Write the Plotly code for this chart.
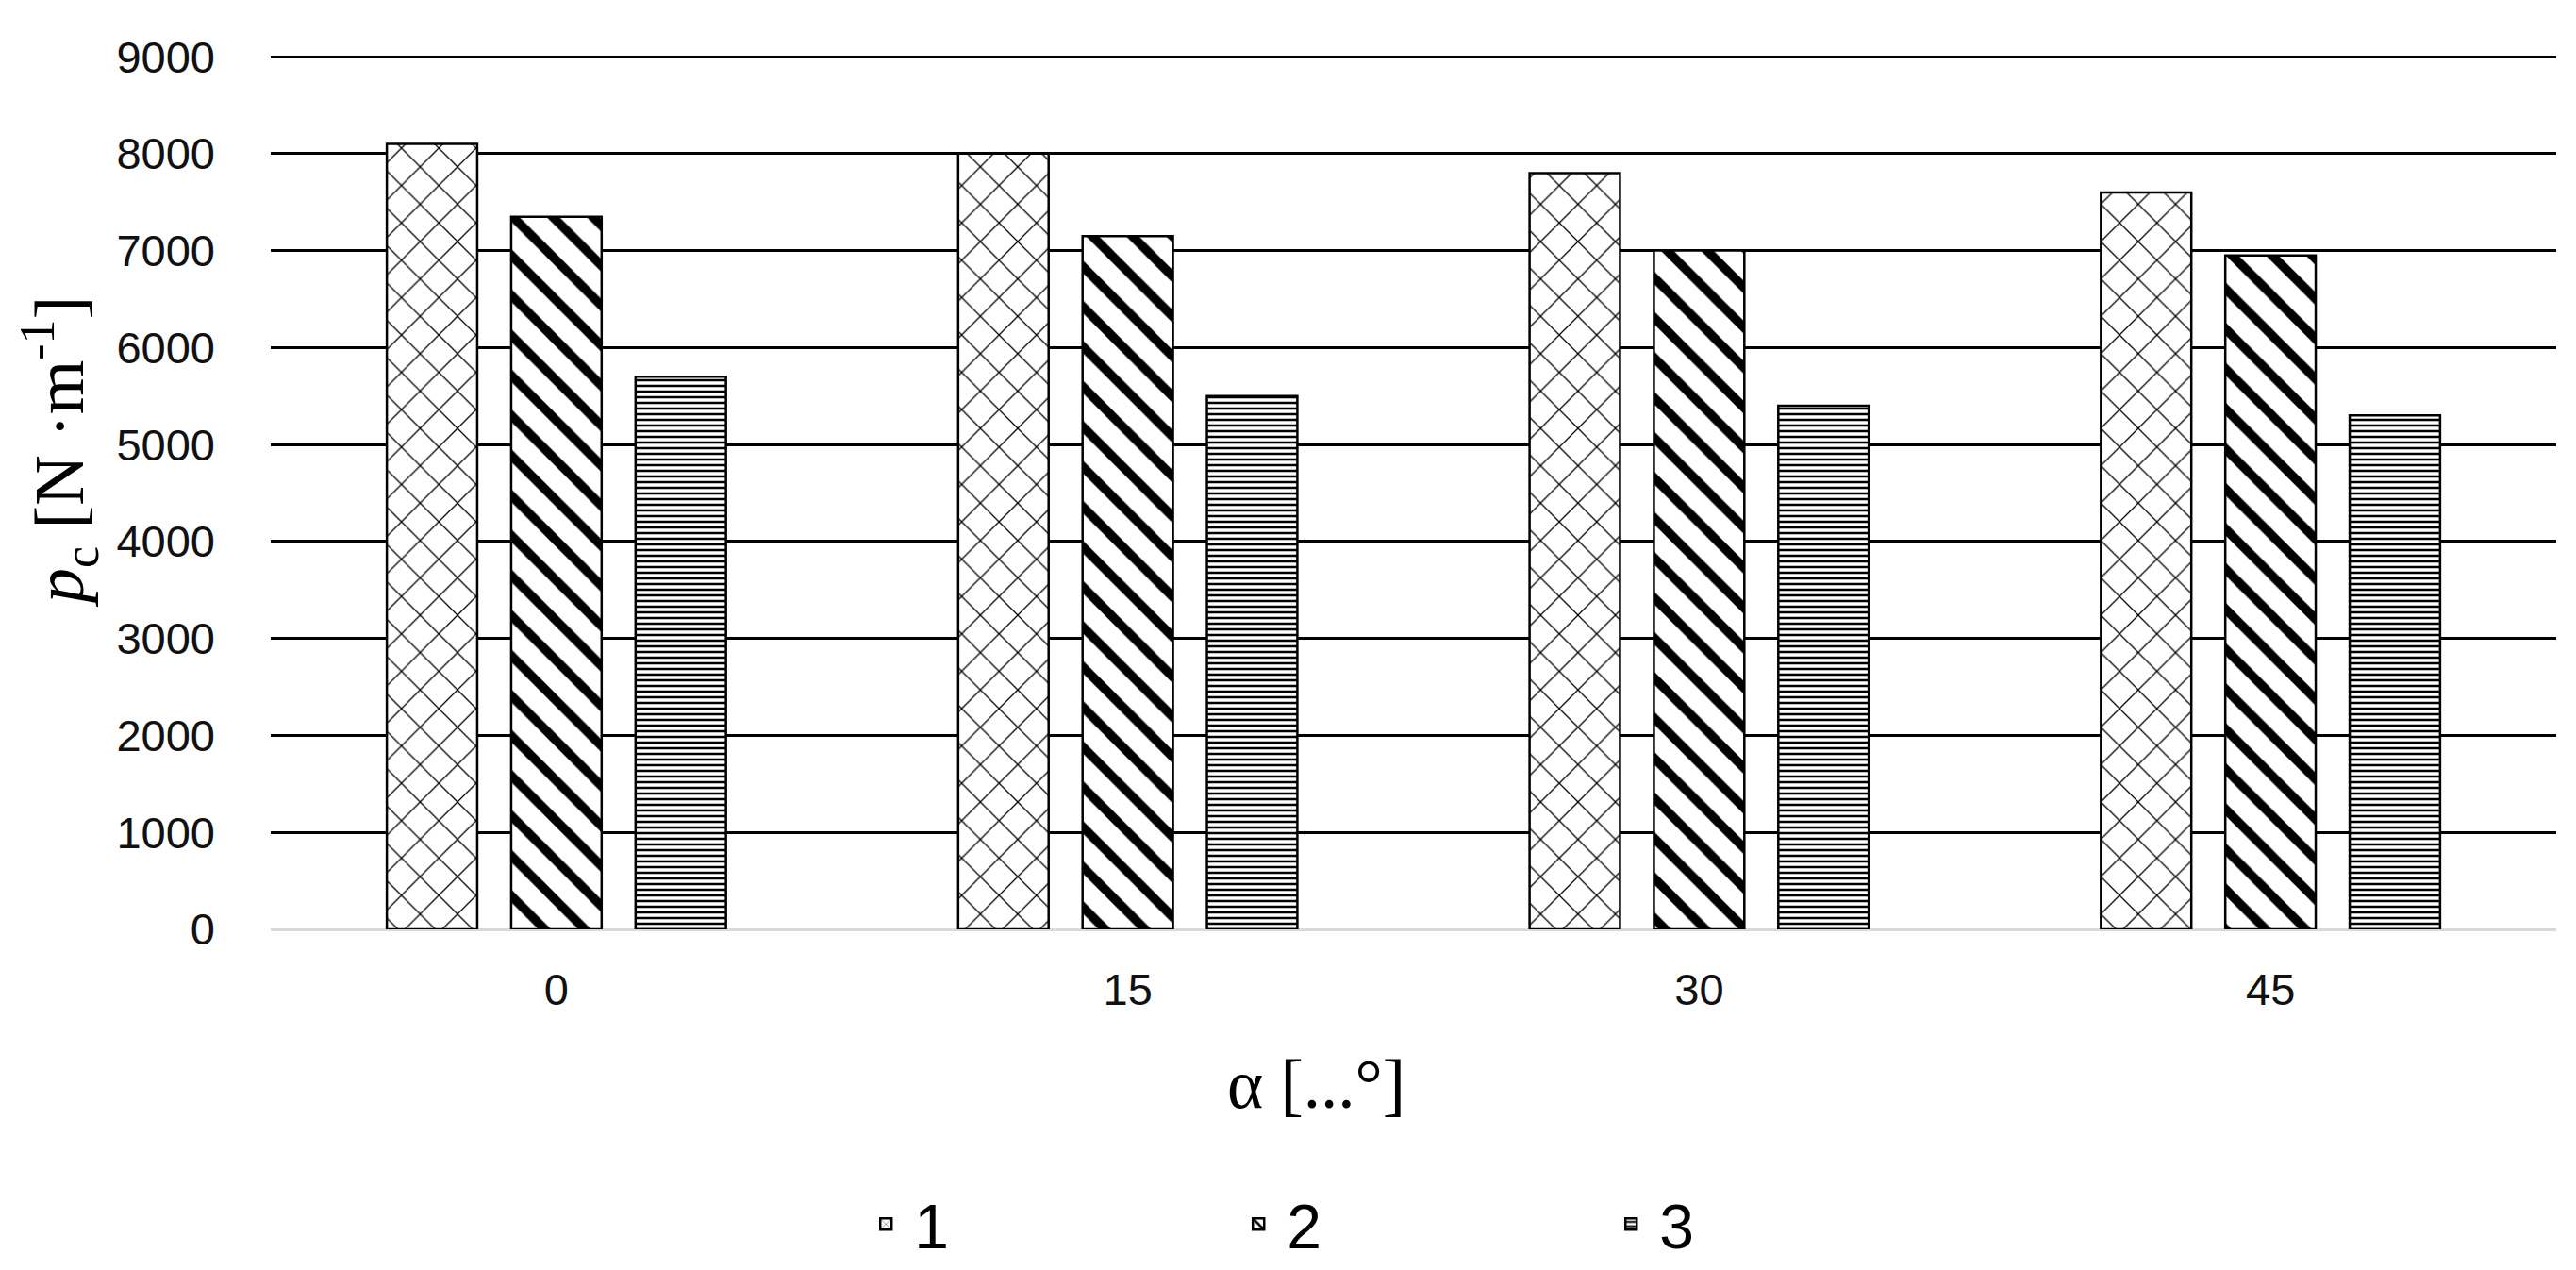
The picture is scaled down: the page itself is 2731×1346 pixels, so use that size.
import plotly.graph_objects as go

categories = ["0", "15", "30", "45"]
series_names = ["1", "2", "3"]
values_1 = [8100, 8000, 7800, 7600]
values_2 = [7350, 7150, 7000, 6950]
values_3 = [5700, 5500, 5400, 5300]
y_ticks = [0, 1000, 2000, 3000, 4000, 5000, 6000, 7000, 8000, 9000]

x_title = "α [...°]"
y_title = "<i>p</i><sub>c</sub> [N ·m<sup>-1</sup>]"

series_values = [values_1, values_2, values_3]
pattern_styles = [
    dict(shape="x", size=28, solidity=0.09),
    dict(shape="\\", size=30, solidity=0.32),
    dict(shape="-", size=6, solidity=0.42),
]

W, H = 2731, 1346
L, R, T, B = 279, 29, 50, 369

fig = go.Figure()
for name, vals, pat in zip(series_names, series_values, pattern_styles):
    fig.add_trace(go.Bar(
        x=categories, y=vals, name=name,
        marker=dict(
            color="white",
            line=dict(color="black", width=2.5),
            pattern=dict(fgcolor="black", bgcolor="white", fgopacity=1, fillmode="overlay", **pat),
        ),
    ))

tick_font = dict(family="Liberation Sans, Arial", size=47, color="#111111")
title_font = dict(family="Liberation Serif, Times New Roman", color="black")

pw = W - L - R
ph = H - T - B

fig.update_layout(
    width=W, height=H,
    margin=dict(l=L, r=R, t=T, b=B),
    paper_bgcolor="white", plot_bgcolor="white",
    barmode="group", bargap=0.347, bargroupgap=0.273,
    showlegend=True,
    legend=dict(
        orientation="h", xref="container", yref="container",
        x=0.33, xanchor="left", y=0.042, yanchor="middle",
        font=dict(family="Liberation Sans Narrow, Liberation Sans, Arial", size=66, color="black"),
        entrywidth=330, entrywidthmode="pixels", itemwidth=50,
    ),
    xaxis=dict(
        type="category", showgrid=False, showline=False, zeroline=False,
        tickfont=tick_font, ticks="", ticklabelstandoff=32,
    ),
    yaxis=dict(
        range=[0, 9020], tickvals=y_ticks, showgrid=True, gridcolor="black", gridwidth=2.5,
        zeroline=True, zerolinecolor="#d9d9d9", zerolinewidth=3, showline=False,
        tickfont=tick_font, ticks="", ticklabelstandoff=58,
    ),
    annotations=[
        dict(text=x_title, xref="paper", yref="paper",
             x=(1387 - L) / pw, y=-(1141 - (H - B)) / ph,
             xanchor="center", yanchor="middle", showarrow=False,
             font=dict(size=73, **title_font)),
        dict(text=y_title, xref="paper", yref="paper", textangle=-90,
             x=(55 - L) / pw, y=((H - B) - 471) / ph,
             xanchor="center", yanchor="middle", showarrow=False,
             font=dict(size=74, **title_font)),
    ],
)

fig.write_html("out.html")
